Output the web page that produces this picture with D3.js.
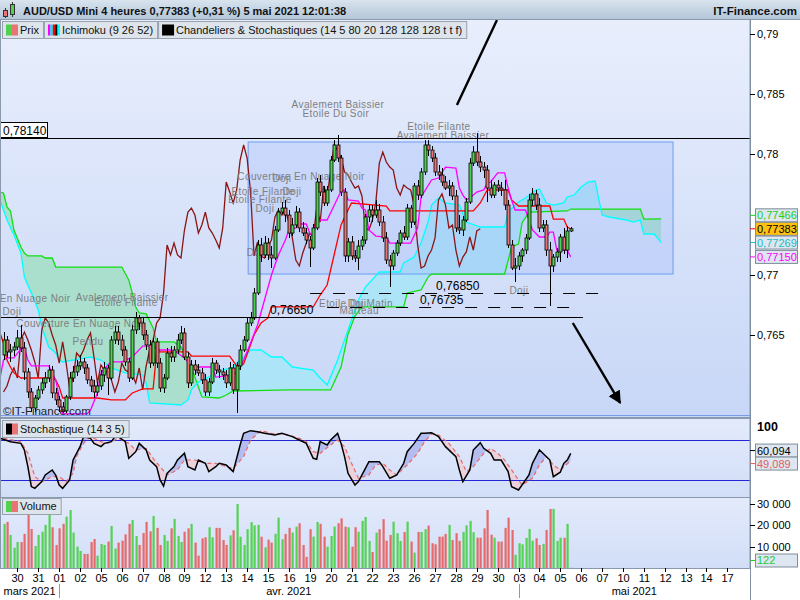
<!DOCTYPE html>
<html lang="fr">
<head>
<meta charset="utf-8">
<title>AUD/USD Mini 4 heures</title>
<script src="https://cdn.jsdelivr.net/npm/d3@7"></script>
<style>
  body { margin: 0; background: #fff; }
  svg { display: block; font-family: "Liberation Sans", Arial, sans-serif; }
</style>
</head>
<body>
<div id="chart"></div>
<script>
// --- Données ---
// bougies 4h : [ouverture, haut, bas, clôture]
const candles = [
  [0.76337,0.76527,0.76295,0.76461],[0.76461,0.76494,0.76312,0.76362],[0.76362,0.76428,0.76279,0.76378],[0.76378,0.76445,0.76328,0.76403],
  [0.76403,0.76544,0.76378,0.76478],[0.76478,0.76586,0.76362,0.76395],[0.76395,0.76445,0.76130,0.76196],[0.76196,0.76229,0.75980,0.76030],
  [0.76030,0.76063,0.75864,0.75897],[0.75897,0.76005,0.75864,0.75980],[0.75980,0.76080,0.75964,0.76047],[0.76047,0.76146,0.76014,0.76105],
  [0.76105,0.76196,0.76063,0.76146],[0.76146,0.76254,0.76113,0.76212],[0.76212,0.76246,0.75980,0.76022],[0.76022,0.76063,0.75922,0.75964],
  [0.75964,0.75997,0.75864,0.75906],[0.75906,0.75947,0.75856,0.75873],[0.75873,0.76005,0.75856,0.75989],[0.75989,0.76196,0.75964,0.76146],
  [0.76146,0.76246,0.76113,0.76196],[0.76196,0.76295,0.76163,0.76246],[0.76246,0.76337,0.76212,0.76279],[0.76279,0.76312,0.76179,0.76229],
  [0.76229,0.76262,0.76096,0.76130],[0.76130,0.76163,0.76030,0.76080],[0.76080,0.76130,0.75980,0.76030],[0.76030,0.76113,0.75997,0.76080],
  [0.76080,0.76212,0.76047,0.76171],[0.76171,0.76279,0.76113,0.76229],[0.76229,0.76254,0.76005,0.76146],[0.76146,0.76494,0.76130,0.76461],
  [0.76461,0.76577,0.76428,0.76527],[0.76527,0.76577,0.76420,0.76461],[0.76461,0.76503,0.76328,0.76378],[0.76378,0.76411,0.76246,0.76279],
  [0.76279,0.76312,0.76113,0.76146],[0.76146,0.76586,0.76130,0.76544],[0.76544,0.76693,0.76511,0.76644],[0.76644,0.76668,0.76544,0.76602],
  [0.76602,0.76644,0.76461,0.76503],[0.76503,0.76544,0.76378,0.76420],[0.76420,0.76461,0.76229,0.76270],[0.76270,0.76478,0.76246,0.76445],
  [0.76445,0.76478,0.76229,0.76270],[0.76270,0.76312,0.76030,0.76063],[0.76063,0.76179,0.76022,0.76146],[0.76146,0.76395,0.76130,0.76353],
  [0.76353,0.76411,0.76279,0.76320],[0.76320,0.76411,0.76279,0.76378],[0.76378,0.76511,0.76345,0.76461],[0.76461,0.76577,0.76428,0.76519],
  [0.76519,0.76561,0.76295,0.76320],[0.76320,0.76362,0.76063,0.76105],[0.76105,0.76295,0.76080,0.76254],[0.76254,0.76295,0.76171,0.76212],
  [0.76212,0.76262,0.76163,0.76188],[0.76188,0.76229,0.76096,0.76130],[0.76130,0.76179,0.75997,0.76030],[0.76030,0.76146,0.75997,0.76113],
  [0.76113,0.76312,0.76096,0.76270],[0.76270,0.76295,0.76179,0.76212],[0.76212,0.76254,0.76146,0.76196],[0.76196,0.76229,0.76130,0.76171],
  [0.76171,0.76212,0.76063,0.76105],[0.76105,0.76279,0.76080,0.76229],[0.76229,0.76262,0.76014,0.76047],[0.76047,0.76279,0.75856,0.76246],
  [0.76246,0.76420,0.76212,0.76378],[0.76378,0.76494,0.76362,0.76461],[0.76461,0.76644,0.76445,0.76602],[0.76602,0.76693,0.76577,0.76644],
  [0.76644,0.76892,0.76627,0.76851],[0.76851,0.77290,0.76834,0.77249],[0.77249,0.77307,0.77108,0.77166],[0.77166,0.77323,0.77141,0.77265],
  [0.77265,0.77307,0.77124,0.77166],[0.77166,0.77240,0.77058,0.77141],[0.77141,0.77406,0.77124,0.77373],[0.77373,0.77555,0.77356,0.77522],
  [0.77522,0.77605,0.77506,0.77555],[0.77555,0.77622,0.77439,0.77497],[0.77497,0.77539,0.77307,0.77348],[0.77348,0.77473,0.77323,0.77415],
  [0.77415,0.77572,0.77390,0.77522],[0.77522,0.77555,0.77356,0.77390],[0.77390,0.77439,0.77323,0.77348],[0.77348,0.77390,0.77257,0.77290],
  [0.77290,0.77323,0.77066,0.77224],[0.77224,0.77423,0.77207,0.77390],[0.77390,0.77804,0.77373,0.77771],[0.77771,0.77829,0.77655,0.77688],
  [0.77688,0.77738,0.77572,0.77597],[0.77597,0.77738,0.77572,0.77705],[0.77705,0.77987,0.77688,0.77953],[0.77953,0.78119,0.77937,0.78078],
  [0.78078,0.78161,0.77937,0.77970],[0.77970,0.77995,0.77655,0.77688],[0.77688,0.77721,0.77108,0.77158],[0.77158,0.77307,0.77108,0.77274],
  [0.77274,0.77323,0.77124,0.77158],[0.77158,0.77207,0.77108,0.77141],[0.77141,0.77290,0.77041,0.77240],[0.77240,0.77323,0.77207,0.77290],
  [0.77290,0.77506,0.77257,0.77481],[0.77481,0.77580,0.77439,0.77539],[0.77539,0.77580,0.77439,0.77497],[0.77497,0.77622,0.77473,0.77539],
  [0.77539,0.77589,0.77406,0.77439],[0.77439,0.77489,0.77274,0.77307],[0.77307,0.77356,0.77091,0.77124],[0.77124,0.77166,0.76901,0.77075],
  [0.77075,0.77207,0.77041,0.77182],[0.77182,0.77290,0.77158,0.77265],[0.77265,0.77373,0.77240,0.77348],[0.77348,0.77406,0.77290,0.77315],
  [0.77315,0.77589,0.77290,0.77555],[0.77555,0.77580,0.77390,0.77439],[0.77439,0.77763,0.77415,0.77738],[0.77738,0.77788,0.77622,0.77663],
  [0.77663,0.77887,0.77638,0.77854],[0.77854,0.78119,0.77829,0.78078],[0.78078,0.78119,0.77987,0.78036],[0.78036,0.78069,0.77937,0.77970],
  [0.77970,0.78011,0.77821,0.77854],[0.77854,0.77912,0.77788,0.77829],[0.77829,0.77887,0.77738,0.77771],[0.77771,0.77821,0.77705,0.77721],
  [0.77721,0.77788,0.77655,0.77738],[0.77738,0.77771,0.77622,0.77655],[0.77655,0.77705,0.77356,0.77390],[0.77390,0.77497,0.77340,0.77373],
  [0.77373,0.77489,0.77323,0.77456],[0.77456,0.77638,0.77439,0.77605],[0.77605,0.77970,0.77589,0.77928],[0.77928,0.78069,0.77904,0.78020],
  [0.78020,0.78177,0.77904,0.77937],[0.77937,0.77987,0.77854,0.77895],[0.77895,0.77937,0.77804,0.77870],[0.77870,0.77912,0.77605,0.77721],
  [0.77721,0.77788,0.77638,0.77663],[0.77663,0.77771,0.77638,0.77746],[0.77746,0.77788,0.77688,0.77721],[0.77721,0.77771,0.77655,0.77705],
  [0.77705,0.77788,0.77539,0.77580],[0.77580,0.77622,0.77224,0.77249],[0.77249,0.77290,0.77041,0.77058],[0.77058,0.77141,0.76942,0.77075],
  [0.77075,0.77191,0.77041,0.77158],[0.77158,0.77224,0.77108,0.77207],[0.77207,0.77340,0.77174,0.77307],[0.77307,0.77672,0.77290,0.77622],
  [0.77622,0.77721,0.77572,0.77672],[0.77672,0.77705,0.77539,0.77580],[0.77580,0.77638,0.77356,0.77390],[0.77390,0.77456,0.77356,0.77415],
  [0.77415,0.77456,0.77158,0.77207],[0.77207,0.77274,0.76743,0.77075],[0.77075,0.77174,0.77025,0.77149],[0.77149,0.77224,0.77108,0.77191],
  [0.77191,0.77340,0.77108,0.77315],[0.77315,0.77390,0.77174,0.77207],[0.77207,0.77406,0.77141,0.77365],[0.77365,0.77398,0.77356,0.77383]
];

const volumes = [
  20700,21600,15500,9500,12200,12200,16000,25200,18300,10300,
  15500,17000,20200,24900,19100,10800,18600,20700,24100,27200,
  16600,10000,8000,6600,6600,12200,13600,5800,11300,10800,
  12400,19700,9100,11900,12800,15800,20700,22500,15000,10800,
  16400,21600,17200,24400,18800,10800,15500,12700,18600,23000,
  15000,12200,17000,18600,20700,11900,5800,13900,14400,19100,
  14400,18800,18800,13100,10800,15300,17700,30000,14700,10800,
  18200,21500,20000,20200,14700,9700,13300,11900,16000,23600,
  13500,16000,18800,16600,19400,21000,10800,5200,18200,14700,
  21600,20700,14700,10000,15000,19400,21000,23300,19400,19100,
  10000,19100,17000,22100,23900,12700,7500,16600,18200,22900,
  12800,15500,21700,16300,12700,16900,21700,12400,7200,16900,
  16900,18200,19900,11600,11100,14700,14700,16000,20200,13100,
  16300,12700,16900,20000,22100,16800,14200,14200,18600,27200,
  15600,14200,12400,12400,18800,23600,17800,6200,11600,11100,
  14100,18300,12800,13900,10800,11300,17800,27700,27700,12700,
  14200,14200,20700,122
];

// Ichimoku (9 26 52) : sommets [indice de bougie, prix]
const tenkan = [[-1,0.76146],[0,0.76295],[1,0.76312],[3,0.76312],[5,0.76387],[6,0.76395],[7,0.76295],[8,0.76246],[13,0.76246],[14,0.76188],[15,0.76130],[16,0.75989],[17,0.75848],[24,0.75848],[25,0.75880],[27,0.76022],[28,0.76188],[30,0.76254],[31,0.76279],[34,0.76279],[37,0.76320],[40,0.76411],[43,0.76411],[45,0.76378],[48,0.76378],[50,0.76353],[52,0.76312],[54,0.76246],[56,0.76237],[60,0.76237],[61,0.76154],[64,0.76163],[66,0.76163],[68,0.76229],[69,0.76295],[71,0.76436],[73,0.76586],[75,0.76793],[77,0.77000],[79,0.77166],[81,0.77290],[82,0.77373],[84,0.77390],[85,0.77423],[87,0.77423],[88,0.77348],[89,0.77315],[90,0.77456],[93,0.77456],[97,0.77696],[98,0.77705],[99,0.77622],[102,0.77613],[103,0.77555],[104,0.77539],[105,0.77373],[107,0.77323],[110,0.77315],[111,0.77265],[117,0.77265],[119,0.77390],[120,0.77647],[123,0.77788],[125,0.77804],[127,0.77895],[130,0.77887],[131,0.77721],[132,0.77663],[133,0.77622],[134,0.77638],[136,0.77688],[138,0.77705],[139,0.77763],[140,0.77771],[142,0.77846],[144,0.77846],[145,0.77721],[146,0.77622],[147,0.77539],[150,0.77539],[152,0.77373],[154,0.77315],[156,0.77315],[157,0.77356],[158,0.77356],[159,0.77207],[162,0.77207],[163,0.77150]];
const kijun = [[-1,0.76519],[0,0.76436],[1,0.76295],[2,0.76237],[3,0.76188],[5,0.76146],[13,0.76146],[14,0.76154],[15,0.76130],[16,0.76072],[17,0.75980],[27,0.75980],[31,0.75964],[35,0.75964],[37,0.76022],[40,0.76055],[43,0.76055],[44,0.76362],[53,0.76362],[54,0.76328],[65,0.76328],[67,0.76246],[69,0.76262],[72,0.76503],[74,0.76602],[76,0.76644],[77,0.76735],[89,0.76735],[91,0.76834],[93,0.76917],[95,0.77166],[97,0.77415],[99,0.77539],[100,0.77597],[110,0.77572],[111,0.77531],[135,0.77531],[137,0.77597],[139,0.77705],[145,0.77705],[146,0.77622],[148,0.77572],[157,0.77572],[158,0.77464],[161,0.77464],[162,0.77398],[163,0.77381]];
const senkouA = [[-1,0.77688],[0,0.77680],[1,0.77564],[2,0.77531],[3,0.77373],[5,0.77232],[6,0.77182],[7,0.77158],[11,0.77158],[12,0.77141],[14,0.77141],[15,0.77066],[34,0.77066],[36,0.76959],[37,0.76851],[38,0.76735],[39,0.76685],[41,0.76677],[43,0.76561],[44,0.76445],[49,0.76445],[51,0.76403],[52,0.76353],[54,0.76237],[57,0.75989],[62,0.75980],[64,0.76005],[66,0.76038],[82,0.76047],[94,0.76047],[97,0.76237],[99,0.76511],[101,0.76660],[103,0.76735],[115,0.76735],[116,0.76851],[120,0.76876],[122,0.76983],[123,0.77008],[144,0.77008],[146,0.77232],[148,0.77257],[149,0.77431],[151,0.77522],[162,0.77531],[163,0.77547],[183,0.77547],[184,0.77464],[189,0.77466]];
const senkouB = [[-1,0.77622],[0,0.77539],[1,0.77456],[3,0.77332],[5,0.77182],[6,0.76983],[8,0.76851],[10,0.76710],[11,0.76569],[13,0.76403],[15,0.76353],[16,0.76295],[17,0.76279],[22,0.76304],[25,0.76320],[28,0.76295],[31,0.76229],[35,0.76188],[40,0.76171],[41,0.76105],[42,0.75939],[51,0.75922],[53,0.75964],[54,0.76047],[56,0.76113],[63,0.76212],[66,0.76237],[67,0.76270],[69,0.76320],[71,0.76378],[74,0.76378],[77,0.76320],[80,0.76320],[83,0.76237],[89,0.76212],[91,0.76146],[93,0.76088],[96,0.76295],[98,0.76462],[100,0.76627],[102,0.76793],[104,0.76900],[108,0.77025],[114,0.77025],[115,0.77099],[118,0.77149],[120,0.77265],[122,0.77439],[123,0.77580],[125,0.77638],[127,0.77597],[131,0.77580],[133,0.77439],[137,0.77398],[144,0.77398],[145,0.77522],[148,0.77605],[150,0.77638],[153,0.77705],[154,0.77713],[156,0.77597],[158,0.77580],[161,0.77597],[162,0.77647],[164,0.77663],[166,0.77730],[168,0.77771],[170,0.77779],[172,0.77497],[174,0.77481],[179,0.77456],[181,0.77439],[183,0.77456],[184,0.77340],[187,0.77340],[189,0.77269]];
const CHIKOU_SHIFT = 26;

// Stochastique (14 3 5) : [indice, valeur]
const stochK = [[-1,82.5],[2,77.5],[5,75.0],[6,65.1],[7,40.3],[8,10.6],[9,8.1],[11,18.0],[12,27.9],[14,35.4],[15,27.9],[16,13.0],[17,8.1],[19,20.5],[20,50.2],[22,70.1],[23,85.0],[25,82.5],[26,75.0],[28,70.1],[29,75.0],[31,77.5],[32,85.0],[33,85.0],[35,77.5],[36,52.7],[38,62.6],[39,75.0],[41,65.1],[42,50.2],[44,40.3],[45,20.5],[46,11.5],[47,30.4],[49,40.3],[50,50.2],[52,60.2],[53,40.3],[55,35.4],[56,50.2],[58,45.3],[59,32.9],[61,40.3],[62,45.3],[64,42.8],[65,37.8],[66,32.9],[68,72.6],[69,89.9],[71,93.9],[73,92.4],[75,89.9],[78,87.4],[80,89.9],[83,85.0],[85,80.0],[87,75.0],[89,52.7],[90,51.2],[91,77.5],[93,72.6],[94,80.0],[96,89.9],[97,75.0],[98,55.2],[99,30.4],[101,13.0],[102,18.0],[104,37.8],[105,47.8],[108,47.8],[109,40.3],[111,23.0],[113,27.9],[115,45.3],[116,62.6],[118,75.0],[120,89.9],[121,89.9],[123,90.9],[125,85.0],[127,70.1],[130,55.2],[131,35.4],[132,18.0],[134,35.4],[135,65.1],[137,76.0],[138,67.6],[140,60.2],[141,50.2],[143,50.2],[145,32.9],[146,10.6],[148,5.6],[149,13.0],[151,27.9],[152,45.3],[154,65.1],[155,60.2],[157,50.2],[158,25.4],[160,32.0],[161,45.3],[162,50.2],[163,60.094]];
const stochD = [[0,82.5],[5,77.5],[7,60.2],[9,25.4],[11,18.0],[14,25.4],[16,25.4],[18,18.0],[20,30.4],[21,55.2],[23,75.0],[25,85.0],[28,77.5],[30,75.0],[33,82.5],[36,75.0],[38,65.1],[41,67.6],[43,52.7],[45,40.3],[47,27.9],[50,35.4],[52,50.2],[55,50.2],[58,45.3],[61,45.3],[64,40.3],[66,37.8],[69,55.2],[71,80.0],[74,93.9],[77,89.9],[80,89.0],[82,87.4],[85,82.5],[87,77.5],[89,62.6],[91,60.2],[94,72.6],[96,80.0],[98,70.1],[100,45.3],[102,23.0],[105,27.9],[107,42.8],[109,45.3],[111,35.4],[113,27.9],[116,42.8],[119,60.2],[121,77.5],[123,88.9],[125,87.4],[128,75.0],[131,55.2],[133,32.9],[135,40.3],[138,60.2],[140,67.6],[142,60.2],[144,50.2],[146,35.4],[149,13.0],[152,23.0],[154,42.8],[156,55.2],[158,42.8],[160,35.4],[163,49.089]];
const stochLevels = [80, 20];

// axes
const priceTicks = [0.765, 0.77, 0.78, 0.785, 0.79];
const volumeTicks = [10000, 20000, 30000];
const dayLabels = ["30","31","01","02","05","06","07","08","09","12","13","14","15","16","19","20","21","22","23","26","27","28","29","30","03","04","05","06","07","10","11","12","13","14","17"];
const FIRST_DAY_INDEX = 4, CANDLES_PER_DAY = 6;
const months = [["mars 2021", -1], ["avr. 2021", 16], ["mai 2021", 148]];

// annotations
const levels = [
  { price: 0.78140, from: -1, to: 214.5, dash: null, boxed: true },
  { price: 0.76650, from: -1, to: 166.5, dash: null, labelAt: 76.6 },
  { price: 0.76850, from: 88.1, to: 172.3, dash: "12,11", labelAt: 124.3 },
  { price: 0.76735, from: 93.0, to: 165.7, dash: "12,11", labelAt: 119.7 }
];
const zone = { from: 70.3, to: 192.4, top: 0.78103, bottom: 0.77008 };
const arrows = [
  { from: [130.3, 0.78409], to: [141.8, 0.79114], head: false },
  { from: [163.6, 0.76602], to: [177.2, 0.75939], head: true }
];
const patterns = [
  ["Avalement Baissier", 96.1, 0.78384], ["Etoile Du Soir", 95.5, 0.78310],
  ["Etoile Filante", 125.1, 0.78202], ["Avalement Baissier", 126.3, 0.78127],
  ["Couverture En Nuage Noir", 85.5, 0.77788], ["Doji", 80.0, 0.77771],
  ["Etoile Filante", 74.6, 0.77663], ["Doji", 82.9, 0.77663],
  ["Etoile Filante", 73.7, 0.77597], ["Doji", 75.1, 0.77522], ["Doji", 72.6, 0.77158],
  ["En Nuage Noir", 9.1, 0.76776], ["Doji", 2.4, 0.76668],
  ["Avalement Baissier", 34.1, 0.76784], ["Etoile Filante", 35.2, 0.76743],
  ["Couverture En Nuage Noir", 22.0, 0.76569], ["Pendu", 24.3, 0.76420],
  ["Etoile Du Matin", 101.3, 0.76735], ["Doji", 101.6, 0.76735], ["Marteau", 102.2, 0.76677],
  ["Doji", 148.1, 0.76842]
];
const titleText = "AUD/USD Mini 4 heures 0,77383 (+0,31 %) 5 mai 2021 12:01:38";

// --- Mise en page ---
const width = 800, height = 600, plotRight = 750;
const main = { top: 20, bottom: 417 };
const sto = { top: 419, bottom: 497 };
const vol = { top: 498, bottom: 568 };

const UP = "#4fd34f", DOWN = "#e87474";

const svg = d3.select("#chart").append("svg").attr("width", width).attr("height", height);
const defs = svg.append("defs");

function gradient(id, c0, c1) {
  const g = defs.append("linearGradient").attr("id", id)
    .attr("x1", 0).attr("y1", 0).attr("x2", 0).attr("y2", 1);
  g.append("stop").attr("offset", "0%").attr("stop-color", c0);
  g.append("stop").attr("offset", "100%").attr("stop-color", c1);
}
gradient("bgMain", "#e8eefc", "#c8d7f7");
gradient("bgSub", "#e3eafb", "#d2def8");
gradient("bgTitle", "#d8e3ee", "#b2c5d8");

function clipRect(id, y0, y1) {
  defs.append("clipPath").attr("id", id).append("rect")
    .attr("x", 0).attr("y", y0).attr("width", plotRight).attr("height", y1 - y0);
}
clipRect("clipMain", main.top, main.bottom);
clipRect("clipSto", sto.top, sto.bottom);
clipRect("clipVol", vol.top, vol.bottom);

// échelles
const x = d3.scaleLinear().domain([0, candles.length - 1]).range([3.5, 3.5 + 3.48 * (candles.length - 1)]);
const yP = d3.scaleLinear().domain([0.77, 0.78]).range([275, 154.4]);
const yS = d3.scaleLinear().domain([20, 80]).range([480.3, 440]);
const yV = d3.scaleLinear().domain([0, 30000]).range([vol.bottom, 504]);

const comma = (v, n) => (n == null ? String(v) : v.toFixed(n)).replace(".", ",");
const fmtVol = d3.formatLocale({ decimal: ",", thousands: " ", grouping: [3], currency: ["", ""] }).format(",d");

// fond
svg.append("rect").attr("width", width).attr("height", height).attr("fill", "#fff");
svg.append("rect").attr("x", 0).attr("y", main.top).attr("width", plotRight).attr("height", main.bottom - main.top).attr("fill", "url(#bgMain)");
svg.append("rect").attr("x", 0).attr("y", sto.top).attr("width", plotRight).attr("height", sto.bottom - sto.top).attr("fill", "url(#bgSub)");
svg.append("rect").attr("x", 0).attr("y", vol.top).attr("width", plotRight).attr("height", vol.bottom - vol.top).attr("fill", "url(#bgSub)");

// remplissage entre deux séries (couleur selon celle qui est au-dessus)
function bandFill(g, sA, sB, yScale, colAabove, colBabove, id) {
  const px = s => s.map(d => [x(d[0]), yScale(d[1])]);
  const a = px(sA), b = px(sB);
  const poly = a.concat(b.slice().reverse());
  const l = Math.min(a[0][0], b[0][0]), r = Math.max(a[a.length - 1][0], b[b.length - 1][0]);
  const bExt = [[l, b[0][1]], ...b, [r, b[b.length - 1][1]]];
  defs.append("clipPath").attr("id", id + "Up").append("path")
    .attr("d", "M" + bExt.concat([[r, -1000], [l, -1000]]).join("L") + "Z");
  defs.append("clipPath").attr("id", id + "Dn").append("path")
    .attr("d", "M" + bExt.concat([[r, 2000], [l, 2000]]).join("L") + "Z");
  const d = "M" + poly.join("L") + "Z";
  g.append("path").attr("d", d).attr("fill", colAabove).attr("clip-path", `url(#${id}Up)`);
  g.append("path").attr("d", d).attr("fill", colBabove).attr("clip-path", `url(#${id}Dn)`);
}

// --- Panneau principal ---
const gMain = svg.append("g").attr("clip-path", "url(#clipMain)");

// nuage
bandFill(gMain.append("g"), senkouA, senkouB, yP, "#a9dfcc", "#aee4f7", "cloud");

// zone rectangulaire
gMain.append("rect")
  .attr("x", x(zone.from)).attr("y", yP(zone.top))
  .attr("width", x(zone.to) - x(zone.from)).attr("height", yP(zone.bottom) - yP(zone.top))
  .attr("fill", "rgba(150,180,250,0.28)").attr("stroke", "#6d9cf2").attr("stroke-width", 1);

// lignes Ichimoku
const priceLine = d3.line().x(d => x(d[0])).y(d => yP(d[1]));
const chikou = candles.slice(CHIKOU_SHIFT).map((c, k) => [k, c[3]]);
[[senkouA, "#10e010"], [senkouB, "#00ffff"], [chikou, "#8b1414"], [kijun, "#ff0000"], [tenkan, "#ff00ff"]]
  .forEach(([s, col]) => {
    gMain.append("path").attr("d", priceLine(s)).attr("fill", "none")
      .attr("stroke", col).attr("stroke-width", 1.3);
  });

// figures de chandeliers
gMain.append("g").selectAll("text").data(patterns).join("text")
  .attr("x", d => x(d[1])).attr("y", d => yP(d[2]))
  .attr("text-anchor", "middle").attr("font-size", 10).attr("letter-spacing", 0.4)
  .attr("fill", "#808080").text(d => d[0]);

// bougies
const gC = gMain.append("g");
gC.selectAll("line").data(candles).join("line")
  .attr("x1", (d, i) => Math.round(x(i)) + 0.5).attr("x2", (d, i) => Math.round(x(i)) + 0.5)
  .attr("y1", d => yP(d[1])).attr("y2", d => yP(d[2]))
  .attr("stroke", "#000").attr("stroke-width", 1);
gC.selectAll("rect").data(candles).join("rect")
  .attr("x", (d, i) => Math.round(x(i)) - 1)
  .attr("y", d => yP(Math.max(d[0], d[3])))
  .attr("width", 3)
  .attr("height", d => Math.max(1, yP(Math.min(d[0], d[3])) - yP(Math.max(d[0], d[3]))))
  .attr("fill", d => (d[3] >= d[0] ? UP : DOWN))
  .attr("stroke", "#000").attr("stroke-width", 0.8);

// niveaux horizontaux
levels.forEach(lv => {
  const yy = Math.round(yP(lv.price)) + 0.5;
  gMain.append("line").attr("x1", x(lv.from)).attr("x2", x(lv.to)).attr("y1", yy).attr("y2", yy)
    .attr("stroke", "#000").attr("stroke-width", 1)
    .attr("stroke-dasharray", lv.dash);
  if (lv.boxed) {
    gMain.append("rect").attr("x", 0.5).attr("y", yy - 16).attr("width", 47).attr("height", 15)
      .attr("fill", "#fff").attr("stroke", "#000");
    gMain.append("text").attr("x", 3).attr("y", yy - 4).attr("font-size", 12).text(comma(lv.price, 5));
  } else {
    gMain.append("text").attr("x", x(lv.labelAt)).attr("y", yy - 4).attr("font-size", 12)
      .text(comma(lv.price, 5));
  }
});

// flèches
defs.append("marker").attr("id", "arrowHead").attr("viewBox", "0 0 10 10")
  .attr("refX", 9).attr("refY", 5).attr("markerUnits", "userSpaceOnUse")
  .attr("markerWidth", 13).attr("markerHeight", 13).attr("orient", "auto")
  .append("path").attr("d", "M0,0L10,5L0,10Z").attr("fill", "#000");
arrows.forEach(a => {
  gMain.append("line")
    .attr("x1", x(a.from[0])).attr("y1", yP(a.from[1]))
    .attr("x2", x(a.to[0])).attr("y2", yP(a.to[1]))
    .attr("stroke", "#000").attr("stroke-width", 2.4)
    .attr("marker-end", a.head ? "url(#arrowHead)" : null);
});

gMain.append("line").attr("x1", 0).attr("x2", plotRight).attr("y1", 415.5).attr("y2", 415.5)
  .attr("stroke", "#7a9ce8");
gMain.append("text").attr("x", 3).attr("y", 415).attr("font-size", 11.5).attr("fill", "#222")
  .text("\u00a9IT-Finance.com");

// --- Stochastique ---
const gSto = svg.append("g").attr("clip-path", "url(#clipSto)");
bandFill(gSto.append("g"), stochK, stochD, yS, "#b3bdf0", "#ecd2dd", "sto");
stochLevels.forEach(v => {
  gSto.append("line").attr("x1", 0).attr("x2", plotRight)
    .attr("y1", Math.round(yS(v)) + 0.5).attr("y2", Math.round(yS(v)) + 0.5)
    .attr("stroke", "#2424d8").attr("stroke-width", 1.2);
});
const stoLine = d3.line().x(d => x(d[0])).y(d => yS(d[1]));
gSto.append("path").attr("d", stoLine(stochD)).attr("fill", "none")
  .attr("stroke", "#e66a6a").attr("stroke-width", 1.2).attr("stroke-dasharray", "4,3");
gSto.append("path").attr("d", stoLine(stochK)).attr("fill", "none")
  .attr("stroke", "#000").attr("stroke-width", 1.5);

// --- Volume ---
const gVol = svg.append("g").attr("clip-path", "url(#clipVol)");
gVol.selectAll("rect").data(volumes).join("rect")
  .attr("x", (d, i) => Math.round(x(i)) - 0.5).attr("width", 2.2)
  .attr("y", d => yV(d)).attr("height", d => yV(0) - yV(d))
  .attr("fill", (d, i) => (candles[i][3] >= candles[i][0] ? "#55d255" : "#e66a6a"));

// cadres des panneaux
[[main.top, main.bottom], [sto.top, sto.bottom], [vol.top, vol.bottom]].forEach(([a, b]) => {
  svg.append("rect").attr("x", 0.5).attr("y", a - 0.5).attr("width", plotRight - 0.5).attr("height", b - a + 1)
    .attr("fill", "none").attr("stroke", "#8a99ab");
});

// --- Axe de droite ---
svg.append("rect").attr("x", plotRight + 1).attr("y", main.top).attr("width", width - plotRight - 1)
  .attr("height", vol.bottom - main.top).attr("fill", "#fff");
svg.append("line").attr("x1", plotRight + 0.5).attr("x2", plotRight + 0.5).attr("y1", main.top).attr("y2", height)
  .attr("stroke", "#7f8fa0");

const gAxis = svg.append("g").attr("font-size", 11);
function tick(y, label, col) {
  gAxis.append("line").attr("x1", plotRight).attr("x2", plotRight + 5).attr("y1", y).attr("y2", y)
    .attr("stroke", col || "#000");
  if (label != null) gAxis.append("text").attr("x", plotRight + 7).attr("y", y).attr("dy", "0.35em").text(label);
}
priceTicks.forEach(v => tick(Math.round(yP(v)) + 0.5, comma(v)));
volumeTicks.forEach(v => tick(Math.round(yV(v)) + 0.5, fmtVol(v)));
gAxis.append("text").attr("x", plotRight + 7).attr("y", yS(100)).attr("dy", "0.35em")
  .attr("font-weight", "bold").attr("font-size", 12.5).text("100");

// étiquettes de dernière valeur
function valueBox(y, text, col, bg, tickCol) {
  tick(y, null, tickCol || col);
  gAxis.append("rect").attr("x", plotRight + 5.5).attr("y", y - 6.5).attr("width", 42).attr("height", 13)
    .attr("fill", bg || "#dde6f1").attr("stroke", "#7f8c99");
  gAxis.append("text").attr("x", plotRight + 7).attr("y", y).attr("dy", "0.36em").attr("fill", col).text(text);
}
const last = s => s[s.length - 1][1];
const closeNow = candles[candles.length - 1][3];
const yClose = yP(closeNow);
valueBox(Math.min(yP(senkouA[senkouA.length - 1][1]), yClose - 13.5), comma(last(senkouA), 5), "#18d018");
valueBox(yClose, comma(closeNow, 5), "#000", "#ffc20e", "#ff0000");
const yB = Math.max(yP(last(senkouB)), yClose + 13.5);
valueBox(yB, comma(last(senkouB), 5), "#1cbcbc");
valueBox(Math.max(yP(last(tenkan)), yB + 13.5), comma(last(tenkan), 5), "#ff00ff");

const kY = yS(last(stochK)), dY = yS(last(stochD)), midKD = (kY + dY) / 2;
valueBox(Math.min(kY, midKD - 6.5), comma(last(stochK), 3), "#000", null, "#000");
valueBox(Math.max(dY, midKD + 6.5), comma(last(stochD), 3), "#e06060", null, "#e06060");
valueBox(Math.min(yV(volumes[volumes.length - 1]), vol.bottom - 7.5), String(volumes[volumes.length - 1]), "#2ec82e", null, "#2ec82e");

// --- Axe du temps ---
svg.append("line").attr("x1", 0).attr("x2", plotRight).attr("y1", vol.bottom + 0.5).attr("y2", vol.bottom + 0.5)
  .attr("stroke", "#8a99ab");
const gTime = svg.append("g").attr("font-size", 11).attr("text-anchor", "middle");
dayLabels.forEach((lab, k) => {
  const xx = Math.round(x(FIRST_DAY_INDEX + k * CANDLES_PER_DAY)) + 0.5;
  gTime.append("line").attr("x1", xx).attr("x2", xx).attr("y1", vol.bottom).attr("y2", vol.bottom + 4).attr("stroke", "#000");
  gTime.append("text").attr("x", xx).attr("y", 582).text(lab);
});
months.forEach((m, k) => {
  const x0 = Math.max(0, x(m[1]));
  const x1 = k + 1 < months.length ? x(months[k + 1][1]) : plotRight;
  gTime.append("text").attr("x", (x0 + x1) / 2).attr("y", 595).text(m[0]);
  if (k > 0) {
    gTime.append("line").attr("x1", Math.round(x0) + 0.5).attr("x2", Math.round(x0) + 0.5)
      .attr("y1", 584).attr("y2", 598).attr("stroke", "#8a99ab");
  }
});

// --- Bandeau de titre ---
svg.append("rect").attr("width", width).attr("height", 20).attr("fill", "url(#bgTitle)");
svg.append("line").attr("x1", 0).attr("x2", width).attr("y1", 19.5).attr("y2", 19.5).attr("stroke", "#8a99ab");
const ico = svg.append("g");
ico.append("line").attr("x1", 5.5).attr("x2", 5.5).attr("y1", 8).attr("y2", 18).attr("stroke", "#333");
ico.append("rect").attr("x", 3.5).attr("y", 10.5).attr("width", 4).attr("height", 6).attr("fill", DOWN).attr("stroke", "#333");
ico.append("line").attr("x1", 12.5).attr("x2", 12.5).attr("y1", 2).attr("y2", 17).attr("stroke", "#333");
ico.append("rect").attr("x", 10.5).attr("y", 4.5).attr("width", 4).attr("height", 10).attr("fill", UP).attr("stroke", "#333");
svg.append("text").attr("x", 23).attr("y", 15).attr("font-weight", "bold").attr("font-size", 11)
  .attr("fill", "#111").text(titleText);
svg.append("text").attr("x", 797).attr("y", 15).attr("text-anchor", "end").attr("font-weight", "bold")
  .attr("font-size", 11.5).attr("fill", "#111").text("IT-Finance.com");

// --- Légendes ---
function legend(x0, y0, h, label, colors) {
  const g = svg.append("g");
  const box = g.append("rect").attr("x", x0 + 0.5).attr("y", y0 + 0.5).attr("height", h)
    .attr("fill", "#dde4eb").attr("stroke", "#97a2ae");
  const sw = 12 / colors.length;
  colors.forEach((c, k) => {
    g.append("rect").attr("x", x0 + 4 + k * sw).attr("y", y0 + (h - 11) / 2 + 0.5)
      .attr("width", sw).attr("height", 11).attr("fill", c);
  });
  const t = g.append("text").attr("x", x0 + 18).attr("y", y0 + h / 2 + 0.5).attr("dy", "0.36em")
    .attr("font-size", 11).attr("fill", "#111").text(label);
  const w = 18 + t.node().getComputedTextLength() + 4;
  box.attr("width", w);
  return x0 + w + 1;
}
let lx = legend(2, 21, 17, "Prix", [UP, DOWN]);
lx = legend(lx, 21, 17, "Ichimoku (9 26 52)", ["#ff00ff", "#00e5ff", "#ff0000", "#000000", "#00ffff"]);
legend(lx, 21, 17, "Chandeliers & Stochastiques (14 5 80 20 128 128 128 t t f)", ["#000000"]);
legend(2, 420, 17, "Stochastique (14 3 5)", ["#000000", DOWN]);
legend(2, 498, 16, "Volume", [UP, DOWN]);
</script>
</body>
</html>
